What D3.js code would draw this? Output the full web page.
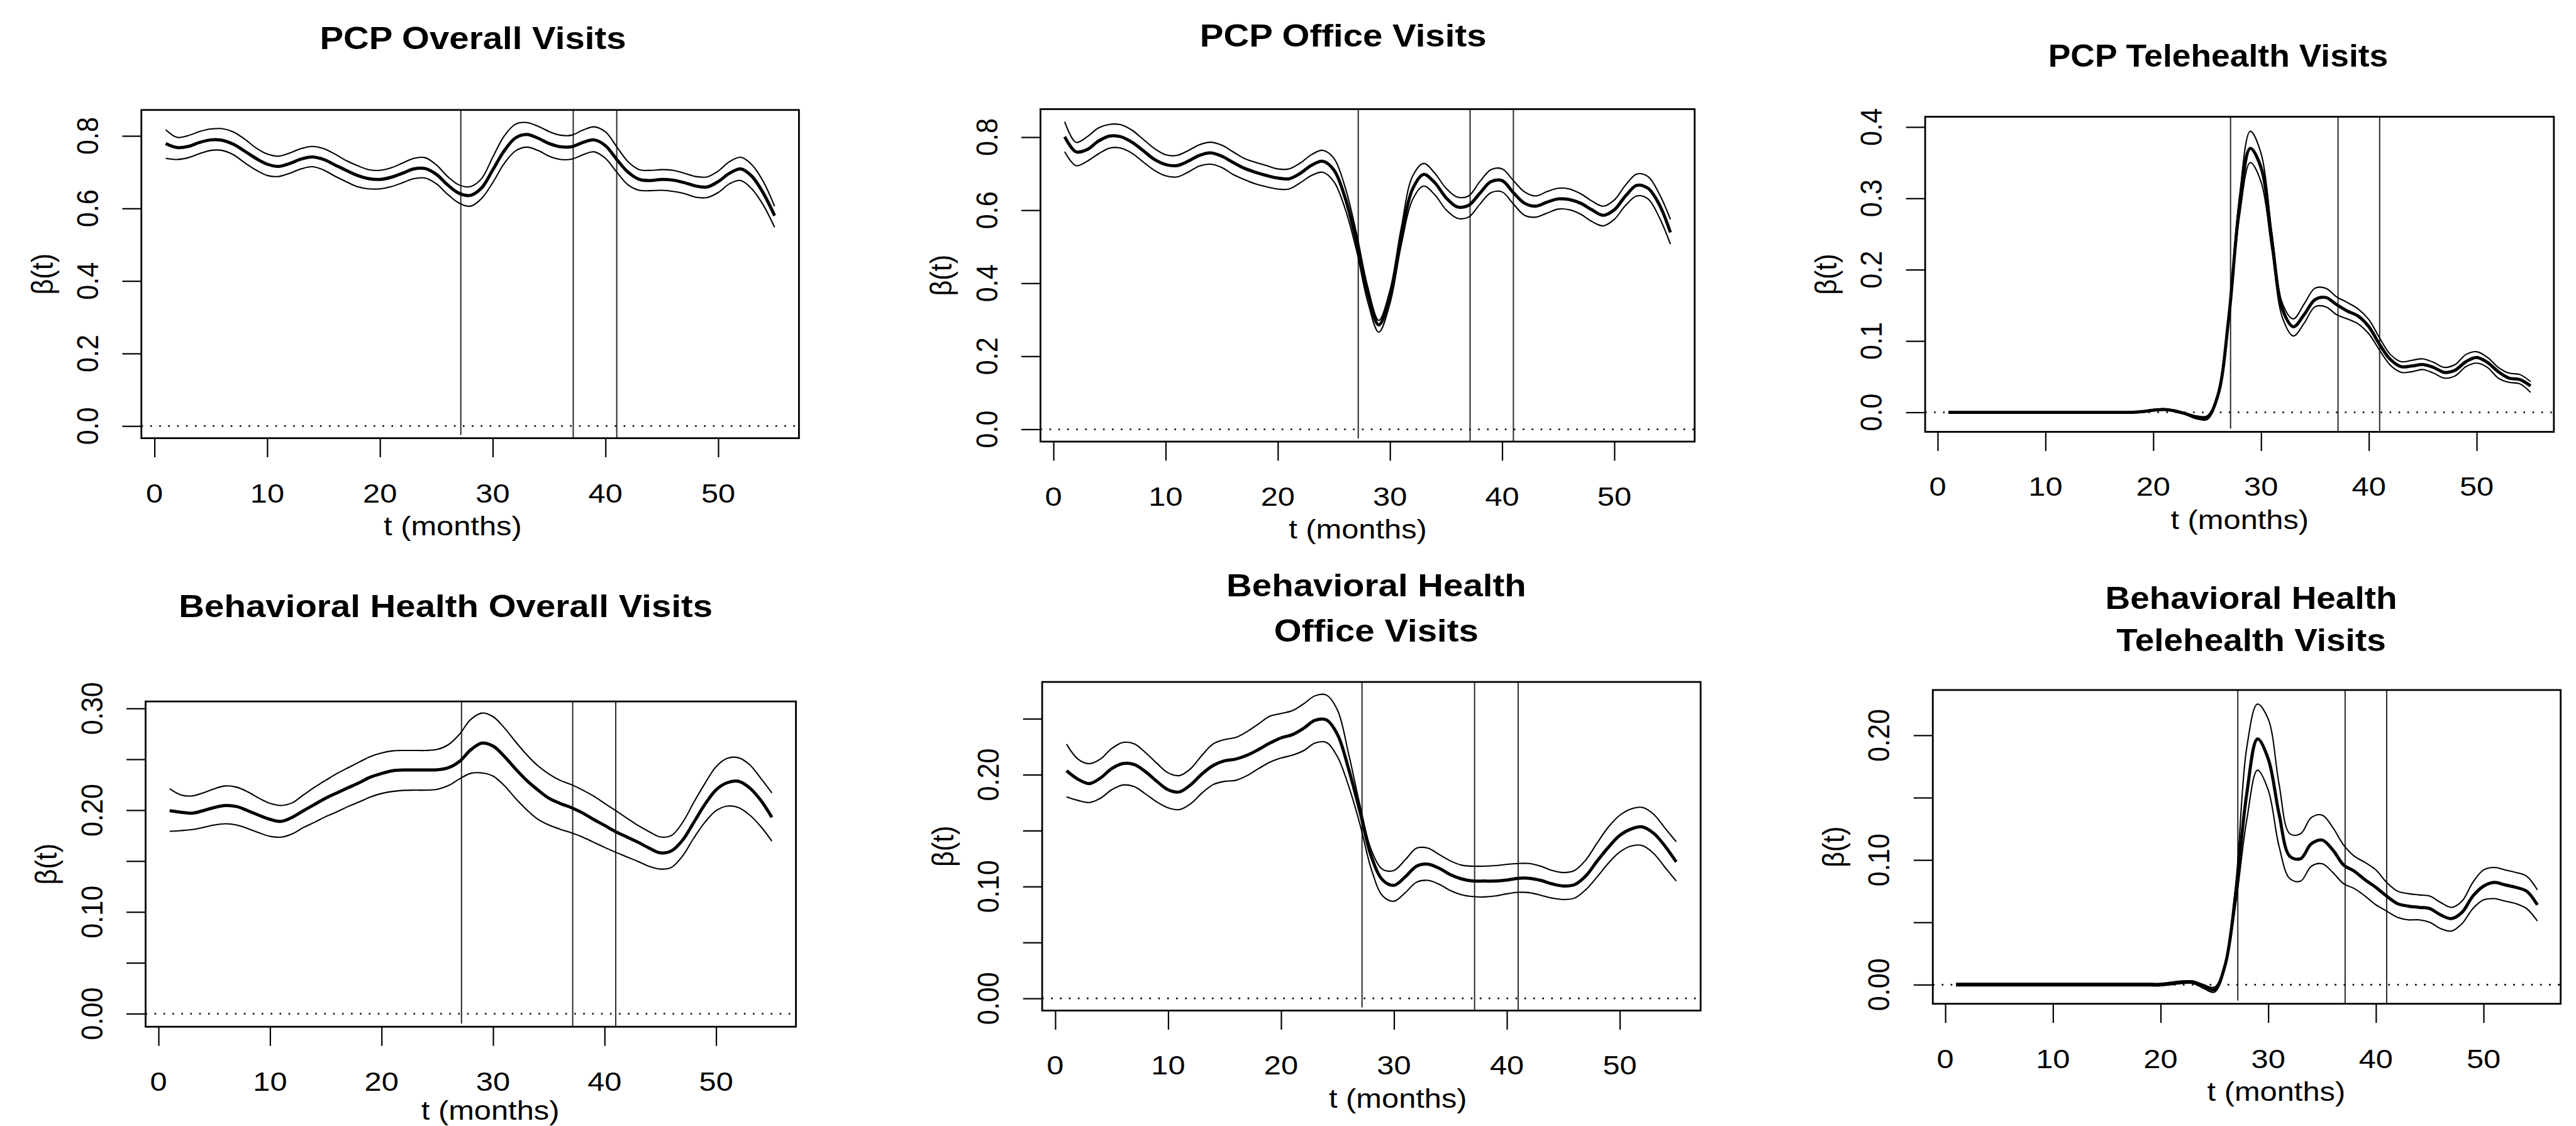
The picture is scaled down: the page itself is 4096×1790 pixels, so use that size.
<!DOCTYPE html>
<html><head><meta charset="utf-8">
<script src="https://cdn.jsdelivr.net/npm/d3@7/dist/d3.min.js"></script>
<style>html,body{margin:0;padding:0;background:#fff;overflow:hidden;} svg{display:block;}</style>
</head><body>
<svg id="chart" width="4096" height="1790"></svg>
<script>
// ---------------- DATA ----------------
const months = [1,2,3,4,5,6,7,8,9,10,11,12,13,14,15,16,17,18,19,20,21,22,23,24,25,26,27,28,29,30,31,32,33,34,35,36,37,38,39,40,41,42,43,44,45,46,47,48,49,50,51,52,53,54,55];
const xTicks = [0,10,20,30,40,50];
const xTickLabels = ["0","10","20","30","40","50"];
const vLines = [27.17, 37.14, 41.0];
const xLabel = "t (months)";
const yLabel = "\u03B2(t)";

const titles = [
  ["PCP Overall Visits"],
  ["PCP Office Visits"],
  ["PCP Telehealth Visits"],
  ["Behavioral Health Overall Visits"],
  ["Behavioral Health", "Office Visits"],
  ["Behavioral Health", "Telehealth Visits"]
];

const yTicksPCP = [0, 0.2, 0.4, 0.6, 0.8];
const yTickLabelsPCP = ["0.0","0.2","0.4","0.6","0.8"];
const yTicksPCPTele = [0, 0.1, 0.2, 0.3, 0.4];
const yTickLabelsPCPTele = ["0.0","0.1","0.2","0.3","0.4"];
const yTicksBHOverall = [0, 0.05, 0.10, 0.15, 0.20, 0.25, 0.30];
const yTickLabelsBHOverall = ["0.00","","0.10","","0.20","","0.30"];
const yTicksBHOffice = [0, 0.05, 0.10, 0.15, 0.20, 0.25];
const yTickLabelsBHOffice = ["0.00","","0.10","","0.20",""];
const yTicksBHTele = [0, 0.05, 0.10, 0.15, 0.20];
const yTickLabelsBHTele = ["0.00","","0.10","","0.20"];

// PCP Overall
const pcpOverallMean = [0.779,0.768,0.771,0.782,0.789,0.788,0.777,0.758,0.738,0.722,0.716,0.724,0.736,0.742,0.735,0.720,0.705,0.691,0.682,0.680,0.686,0.697,0.709,0.710,0.694,0.665,0.642,0.636,0.656,0.706,0.758,0.794,0.804,0.794,0.779,0.770,0.770,0.782,0.789,0.773,0.735,0.700,0.680,0.677,0.680,0.678,0.671,0.662,0.659,0.674,0.697,0.709,0.688,0.642,0.580];
const pcpOverallUpper = [0.817,0.796,0.801,0.812,0.819,0.820,0.811,0.791,0.767,0.750,0.744,0.753,0.765,0.771,0.765,0.750,0.732,0.718,0.707,0.705,0.712,0.725,0.738,0.740,0.720,0.688,0.665,0.660,0.682,0.741,0.799,0.832,0.837,0.827,0.812,0.802,0.802,0.816,0.825,0.811,0.770,0.729,0.707,0.705,0.707,0.705,0.697,0.688,0.687,0.703,0.729,0.741,0.720,0.674,0.606];
const pcpOverallLower = [0.738,0.735,0.740,0.751,0.760,0.760,0.748,0.726,0.706,0.691,0.688,0.697,0.709,0.715,0.706,0.689,0.674,0.660,0.654,0.654,0.660,0.671,0.682,0.684,0.668,0.639,0.615,0.606,0.627,0.671,0.723,0.758,0.769,0.760,0.744,0.735,0.736,0.748,0.756,0.738,0.700,0.665,0.650,0.649,0.650,0.647,0.641,0.631,0.630,0.644,0.668,0.677,0.653,0.609,0.548];

// PCP Office
const pcpOfficeMean = [0.801,0.760,0.766,0.789,0.803,0.801,0.786,0.763,0.739,0.725,0.722,0.734,0.750,0.757,0.748,0.731,0.715,0.704,0.695,0.688,0.686,0.701,0.723,0.734,0.710,0.634,0.516,0.375,0.286,0.364,0.528,0.657,0.698,0.675,0.634,0.609,0.613,0.646,0.678,0.681,0.648,0.619,0.611,0.622,0.631,0.629,0.619,0.601,0.586,0.601,0.639,0.668,0.660,0.616,0.539];
const pcpOfficeUpper = [0.842,0.786,0.801,0.825,0.835,0.834,0.819,0.794,0.769,0.752,0.750,0.763,0.779,0.786,0.778,0.760,0.742,0.731,0.722,0.713,0.713,0.729,0.752,0.764,0.742,0.663,0.539,0.392,0.298,0.381,0.551,0.692,0.728,0.701,0.660,0.636,0.639,0.678,0.711,0.713,0.681,0.650,0.639,0.651,0.660,0.658,0.645,0.625,0.611,0.628,0.669,0.699,0.692,0.645,0.575];
const pcpOfficeLower = [0.760,0.722,0.734,0.754,0.770,0.770,0.756,0.732,0.709,0.694,0.691,0.704,0.721,0.726,0.717,0.698,0.684,0.672,0.664,0.658,0.658,0.675,0.695,0.704,0.678,0.604,0.492,0.351,0.266,0.345,0.504,0.628,0.666,0.642,0.601,0.578,0.581,0.616,0.648,0.650,0.617,0.586,0.581,0.592,0.603,0.601,0.589,0.569,0.557,0.575,0.613,0.639,0.631,0.581,0.507];

// PCP Telehealth
const pcpTeleMean = [0,0,0,0,0,0,0,0,0,0,0,0,0,0,0,0,0,0.000,0.001,0.003,0.004,0.002,-0.002,-0.007,-0.007,0.024,0.132,0.289,0.370,0.343,0.241,0.144,0.120,0.137,0.158,0.161,0.151,0.142,0.135,0.120,0.095,0.074,0.064,0.065,0.067,0.063,0.056,0.059,0.071,0.077,0.070,0.057,0.048,0.046,0.037];
const pcpTeleUpper = [0.001,0.001,0.001,0.001,0.001,0.001,0.001,0.001,0.001,0.001,0.001,0.001,0.001,0.001,0.001,0.001,0.001,0.001,0.002,0.004,0.005,0.003,-0.001,-0.005,-0.005,0.026,0.137,0.303,0.394,0.363,0.252,0.152,0.131,0.152,0.174,0.174,0.162,0.154,0.145,0.130,0.104,0.081,0.071,0.073,0.075,0.070,0.063,0.067,0.081,0.085,0.077,0.063,0.055,0.053,0.043];
const pcpTeleLower = [-0.001,-0.001,-0.001,-0.001,-0.001,-0.001,-0.001,-0.001,-0.001,-0.001,-0.001,-0.001,-0.001,-0.001,-0.001,-0.001,-0.001,-0.001,0.000,0.002,0.003,0.001,-0.003,-0.009,-0.010,0.021,0.127,0.275,0.350,0.323,0.228,0.132,0.107,0.125,0.148,0.148,0.137,0.131,0.124,0.110,0.087,0.066,0.056,0.057,0.060,0.055,0.048,0.051,0.064,0.069,0.063,0.048,0.042,0.040,0.028];

// Behavioral Health Overall
const bhOverallMean = [0.1995,0.198,0.197,0.1995,0.2026,0.2046,0.2036,0.1995,0.195,0.191,0.189,0.193,0.1995,0.2057,0.2118,0.217,0.222,0.227,0.2325,0.236,0.2387,0.2395,0.2395,0.2395,0.2397,0.2417,0.248,0.2593,0.2659,0.263,0.253,0.2407,0.2294,0.220,0.2118,0.2067,0.2026,0.1974,0.191,0.185,0.1788,0.1737,0.1685,0.1627,0.158,0.160,0.1706,0.188,0.2057,0.220,0.227,0.2284,0.222,0.2098,0.193];
const bhOverallUpper = [0.221,0.215,0.214,0.217,0.221,0.2238,0.2226,0.218,0.2118,0.2067,0.2046,0.2073,0.215,0.2226,0.2294,0.236,0.2417,0.2473,0.2527,0.2562,0.2583,0.2587,0.2587,0.2587,0.2597,0.2644,0.2748,0.2892,0.2954,0.2919,0.281,0.2675,0.2547,0.2438,0.2356,0.2294,0.2252,0.220,0.2139,0.2067,0.1995,0.1922,0.185,0.1788,0.1737,0.1751,0.188,0.2077,0.2263,0.2428,0.251,0.2515,0.2448,0.2314,0.217];
const bhOverallLower = [0.1792,0.1799,0.1809,0.183,0.1854,0.1867,0.1854,0.1819,0.1778,0.1743,0.1735,0.1768,0.183,0.1881,0.1937,0.1984,0.2036,0.2081,0.2129,0.2164,0.2184,0.2195,0.2197,0.2197,0.2205,0.2242,0.2308,0.2362,0.2366,0.2335,0.2242,0.2118,0.2005,0.1912,0.1854,0.1813,0.1778,0.1737,0.1685,0.1634,0.1586,0.1541,0.1496,0.1448,0.1421,0.1438,0.1551,0.1726,0.1881,0.1995,0.204,0.2026,0.1953,0.184,0.1696];

// Behavioral Health Office
const bhOfficeMean = [0.2035,0.196,0.192,0.197,0.2054,0.210,0.209,0.2026,0.194,0.1865,0.1846,0.191,0.2007,0.2083,0.2124,0.214,0.2174,0.2225,0.2282,0.2329,0.2358,0.2415,0.2485,0.249,0.2358,0.2045,0.1665,0.1267,0.1058,0.1011,0.1087,0.1182,0.120,0.1163,0.1106,0.1068,0.1049,0.1049,0.1049,0.1058,0.1074,0.1074,0.1055,0.1024,0.1005,0.1017,0.1096,0.1229,0.1352,0.1457,0.1514,0.1533,0.1476,0.1362,0.122];
const bhOfficeUpper = [0.2272,0.214,0.2098,0.214,0.2234,0.2288,0.2276,0.2197,0.2102,0.2016,0.1992,0.2054,0.2174,0.2276,0.2314,0.2333,0.2386,0.2453,0.2523,0.2547,0.2572,0.2633,0.2705,0.2712,0.2576,0.2178,0.1722,0.1324,0.1153,0.1144,0.1239,0.1343,0.1343,0.1286,0.1229,0.1191,0.1182,0.1182,0.1187,0.1199,0.1206,0.1206,0.1182,0.1144,0.1125,0.1144,0.1239,0.139,0.1533,0.1637,0.1694,0.1707,0.1646,0.1523,0.140];
const bhOfficeLower = [0.1802,0.177,0.1751,0.1789,0.1865,0.1908,0.1893,0.1827,0.1756,0.1703,0.1688,0.1741,0.1836,0.1912,0.194,0.195,0.1992,0.2054,0.2111,0.2149,0.2174,0.2215,0.2282,0.2288,0.2159,0.1893,0.1552,0.1153,0.0916,0.0869,0.0945,0.1039,0.1055,0.102,0.0964,0.0926,0.091,0.0907,0.0916,0.0935,0.0948,0.0945,0.0922,0.0897,0.0884,0.0897,0.0973,0.1087,0.121,0.1309,0.1362,0.1366,0.1296,0.1172,0.1049];

// Behavioral Health Telehealth
const bhTeleMean = [0,0,0,0,0,0,0,0,0,0,0,0,0,0,0,0,0,0,0,0,0.001,0.002,0.002,-0.001,-0.004,0.016,0.075,0.153,0.197,0.181,0.137,0.103,0.101,0.113,0.116,0.108,0.096,0.091,0.084,0.078,0.071,0.065,0.063,0.062,0.061,0.056,0.053,0.058,0.071,0.079,0.082,0.080,0.078,0.075,0.064];
const bhTeleUpper = [0.001,0.001,0.001,0.001,0.001,0.001,0.001,0.001,0.001,0.001,0.001,0.001,0.001,0.001,0.001,0.001,0.001,0.001,0.001,0.001,0.002,0.003,0.003,0.000,-0.002,0.017,0.082,0.190,0.225,0.213,0.161,0.121,0.121,0.134,0.136,0.126,0.112,0.103,0.098,0.092,0.082,0.075,0.073,0.072,0.071,0.066,0.062,0.067,0.082,0.092,0.094,0.092,0.090,0.087,0.076];
const bhTeleLower = [-0.001,-0.001,-0.001,-0.001,-0.001,-0.001,-0.001,-0.001,-0.001,-0.001,-0.001,-0.001,-0.001,-0.001,-0.001,-0.001,-0.001,-0.001,-0.001,-0.001,0.000,0.001,0.001,-0.003,-0.006,0.014,0.066,0.132,0.172,0.156,0.111,0.085,0.083,0.095,0.097,0.090,0.081,0.077,0.071,0.064,0.059,0.054,0.052,0.052,0.050,0.045,0.043,0.049,0.061,0.068,0.069,0.067,0.065,0.061,0.051];

// y data limits per panel (before R-style 4% expansion)
const yLims = [[0,0.838],[0,0.843],[-0.011,0.398],[-0.001,0.295],[0,0.272],[-0.006,0.227]];

// ---------------- LAYOUT (px in 4096x1790) ----------------
const layout = [
  {L:224.8,  T:174.8,  R:1270.4, B:696.6,  titleX:752.0,  titleY:[78.3],          titleSX:1.13, xlabX:719.9,  xlabDy:154},
  {L:1654.4, T:173.5,  R:2694.6, B:702.0,  titleX:2135.7, titleY:[73.6],          titleSX:1.13, xlabX:2159.0, xlabDy:154},
  {L:3061.1, T:185.6,  R:4060.8, B:686.5,  titleX:3527.0, titleY:[106.3],         titleSX:1.07, xlabX:3561.3, xlabDy:154},
  {L:231.5,  T:1115.1, R:1265.6, B:1632.2, titleX:708.8,  titleY:[981.1],         titleSX:1.13, xlabX:779.6,  xlabDy:148},
  {L:1657.1, T:1084.1, R:2704.1, B:1606.5, titleX:2188.4, titleY:[948.4,1019.9],  titleSX:1.13, xlabX:2222.8, xlabDy:154},
  {L:3073.3, T:1096.9, R:4071.6, B:1595.7, titleX:3579.5, titleY:[967.7,1034.8],  titleSX:1.10, xlabX:3619.4, xlabDy:154}
];

const panels = [
  {mean:pcpOverallMean, upper:pcpOverallUpper, lower:pcpOverallLower, yTicks:yTicksPCP, yLabels:yTickLabelsPCP},
  {mean:pcpOfficeMean, upper:pcpOfficeUpper, lower:pcpOfficeLower, yTicks:yTicksPCP, yLabels:yTickLabelsPCP},
  {mean:pcpTeleMean, upper:pcpTeleUpper, lower:pcpTeleLower, yTicks:yTicksPCPTele, yLabels:yTickLabelsPCPTele},
  {mean:bhOverallMean, upper:bhOverallUpper, lower:bhOverallLower, yTicks:yTicksBHOverall, yLabels:yTickLabelsBHOverall},
  {mean:bhOfficeMean, upper:bhOfficeUpper, lower:bhOfficeLower, yTicks:yTicksBHOffice, yLabels:yTickLabelsBHOffice},
  {mean:bhTeleMean, upper:bhTeleUpper, lower:bhTeleLower, yTicks:yTicksBHTele, yLabels:yTickLabelsBHTele}
];

// ---------------- DRAW ----------------
const S = 0.675, SX = 1.13;
const FONT = "'Liberation Sans', Arial, Helvetica, sans-serif";
const tickFs = 64*S, labFs = 64*S, titleFs = 74*S, tickLen = 45*S;

const svg = d3.select("#chart");
svg.append("rect").attr("width",4096).attr("height",1790).attr("fill","#fff");
const defs = svg.append("defs");

function expand(d){ const r = d[1]-d[0]; return [d[0]-0.04*r, d[1]+0.04*r]; }

function addText(g, str, x, y, size, opts={}){
  const rot = opts.rotate ? " rotate(-90)" : "";
  const sx = opts.sx || SX;
  return g.append("text")
    .attr("transform", `translate(${x},${y}) scale(${sx},1)${rot}`)
    .attr("text-anchor","middle")
    .attr("font-family", FONT)
    .attr("font-size", size)
    .attr("font-weight", opts.bold ? "bold" : "normal")
    .attr("fill","#000")
    .text(str);
}

panels.forEach((p,i)=>{
  const lay = layout[i];
  const g = svg.append("g");
  const x = d3.scaleLinear().domain(expand([months[0], months[months.length-1]])).range([lay.L, lay.R]);
  const y = d3.scaleLinear().domain(expand(yLims[i])).range([lay.B, lay.T]);

  defs.append("clipPath").attr("id","clip"+i).append("rect")
    .attr("x",lay.L).attr("y",lay.T).attr("width",lay.R-lay.L).attr("height",lay.B-lay.T);
  const plot = g.append("g").attr("clip-path",`url(#clip${i})`);

  // vertical reference lines
  vLines.forEach((v,k)=>{
    plot.append("line").attr("x1",x(v)).attr("x2",x(v))
      .attr("y1",lay.T).attr("y2", k===0 ? lay.B-5 : lay.B)
      .attr("stroke","#2a2a2a").attr("stroke-width",2.0);
  });
  // dotted zero line
  plot.append("line").attr("x1",lay.L).attr("x2",lay.R).attr("y1",y(0)).attr("y2",y(0))
    .attr("stroke","#000").attr("stroke-width",2.6).attr("stroke-dasharray","2.6,11.6");

  const line = d3.line().x((d,j)=>x(months[j])).y(d=>y(d)).curve(d3.curveCatmullRom.alpha(0.5));
  [p.upper, p.lower].forEach(arr=>{
    plot.append("path").attr("d",line(arr)).attr("fill","none").attr("stroke","#000").attr("stroke-width",2.1);
  });
  plot.append("path").attr("d",line(p.mean)).attr("fill","none").attr("stroke","#000").attr("stroke-width",5.0).attr("stroke-linejoin","round");

  // box
  g.append("rect").attr("x",lay.L).attr("y",lay.T).attr("width",lay.R-lay.L).attr("height",lay.B-lay.T)
    .attr("fill","none").attr("stroke","#000").attr("stroke-width",2.8);

  // axes (ticks)
  const xAxis = d3.axisBottom(x).tickValues(xTicks).tickSize(tickLen).tickSizeOuter(0).tickFormat("");
  const gx = g.append("g").attr("transform",`translate(0,${lay.B})`).call(xAxis);
  gx.select(".domain").remove();
  gx.selectAll(".tick line").attr("stroke","#000").attr("stroke-width",2.2);
  const yAxis = d3.axisLeft(y).tickValues(p.yTicks).tickSize(tickLen).tickSizeOuter(0).tickFormat("");
  const gy = g.append("g").attr("transform",`translate(${lay.L},0)`).call(yAxis);
  gy.select(".domain").remove();
  gy.selectAll(".tick line").attr("stroke","#000").attr("stroke-width",2.2);

  // tick labels
  xTicks.forEach((v,k)=> addText(g, xTickLabels[k], x(v), lay.B + 151*S, tickFs));
  p.yTicks.forEach((v,k)=>{ if(p.yLabels[k]) addText(g, p.yLabels[k], lay.L - 102*S, y(v), tickFs, {rotate:true}); });

  // axis labels
  const cy = (lay.T+lay.B)/2;
  addText(g, xLabel, lay.xlabX, lay.B + lay.xlabDy, labFs);
  addText(g, yLabel, lay.L - 209*S, cy, labFs, {rotate:true});

  // title
  titles[i].forEach((t,k)=> addText(g, t, lay.titleX, lay.titleY[k], titleFs, {bold:true, sx:lay.titleSX}));
});
</script>
</body></html>
